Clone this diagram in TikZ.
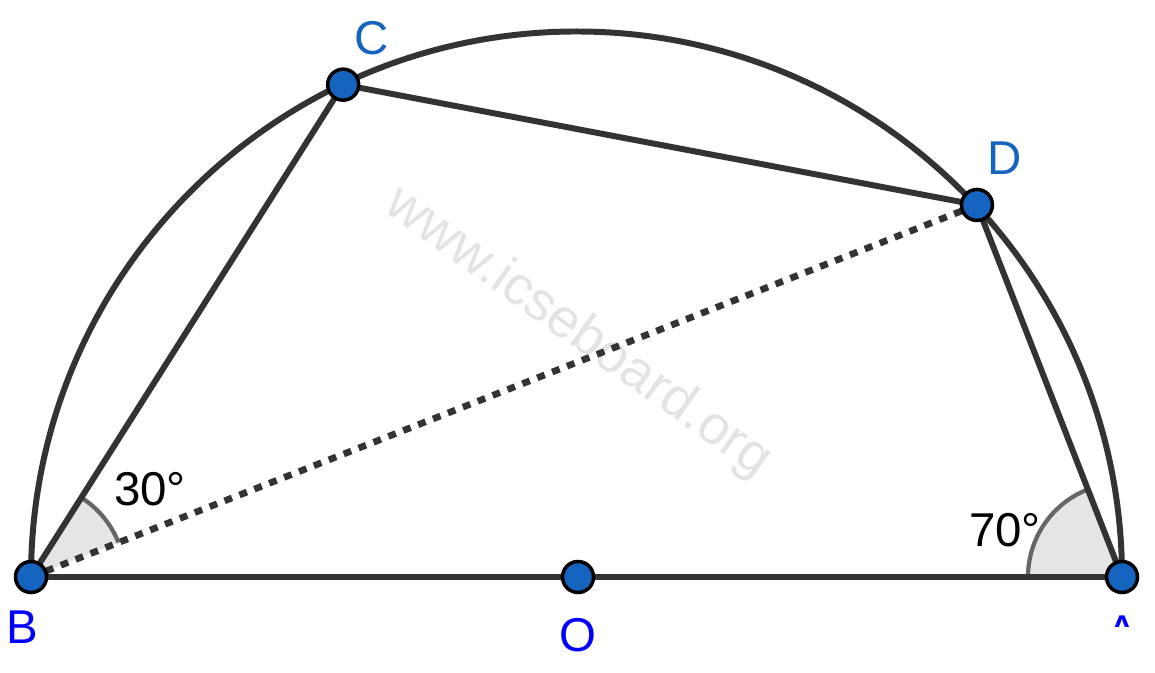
\documentclass[tikz,border=0pt]{standalone}
\usepackage{fontspec}
\setmainfont{Liberation Sans}
\usetikzlibrary{angles}
\definecolor{ptblue}{HTML}{1565C0}
\definecolor{linegray}{HTML}{333333}
\begin{document}
\begin{tikzpicture}[line width=1.7pt,
  seg/.style={draw=linegray},
  pt/.style={fill=ptblue, draw=black, line width=1pt},
  lab/.style={inner sep=0pt, font=\fontsize{13.5}{16}\selectfont},
  ang/.style={draw=black!60, line width=1.2pt, fill=black!10, angle radius=0.94cm}]
\useasboundingbox (0,0) rectangle (11.55,6.73);
\node[rotate=-35.5, text=black!11, font=\fontsize{15.5}{18}\selectfont] (wm) at (5.78,3.4) {www.icseboard.org};
\coordinate (O) at (5.78,0.96); \coordinate (B) at (0.31,0.96); \coordinate (A) at (11.22,0.96);
\coordinate (C) at ([shift={(O)}]115.5:5.455); \coordinate (D) at ([shift={(O)}]43:5.455);
% angle marks
\pic[ang] {angle=D--B--C}; \pic[ang] {angle=D--A--B};
% circle and chords
\draw[seg] (A) arc[start angle=0, end angle=180, radius=5.455];
\draw[seg] (B) -- (A); \draw[seg] (B) -- (C) -- (D) -- (A);
\draw[seg, line width=1.9pt, dash pattern=on 0.08cm off 0.08cm] (B) -- (D);
\foreach \p in {B,O,A,C,D} { \filldraw[pt] (\p) circle[radius=0.155]; };
% labels
\node[lab, text=blue] (lB) at (0.22,0.46) {B}; \node[lab, text=blue] (lO) at (5.78,0.38) {O};
\node[lab, text=ptblue] (lC) at (3.72,6.35) {C}; \node[lab, text=ptblue] (lD) at (10.05,5.15) {D};
\begin{scope} \clip (10.9,0.465) rectangle (11.55,1); \node[lab, text=blue] (lA) at (11.22,0.41) {A}; \end{scope}
\node[lab] (a30) at (1.5,1.84) {30°}; \node[lab] (a70) at (10.05,1.43) {70°};
\end{tikzpicture}
\end{document}
